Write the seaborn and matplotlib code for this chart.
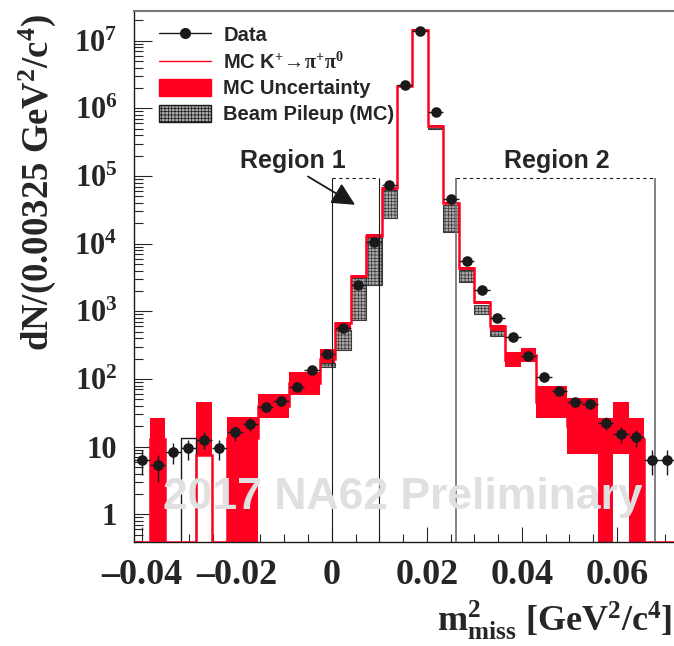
import numpy as np
import pandas as pd
import matplotlib
matplotlib.use("Agg")
import matplotlib.pyplot as plt
from matplotlib.lines import Line2D
from matplotlib.patches import Patch
from matplotlib.ticker import FixedLocator, LogLocator, FuncFormatter, NullFormatter
import seaborn as sns

# binning: 35 bins of 0.00325 GeV^2/c^4
bin_width = 0.00325
first_edge = -0.041525
n_bins = 35

# data counts per bin
data_counts = [6.3, 5.3, 8.4, 9.4, 12.7, 9.4, 16.3, 21.9, 38.6, 46.7,
               76, 136, 231, 567, 2415, 10420, 74100, 2.22e6, 1.41e7, 8.79e5,
               46000, 5460, 2084, 785, 417, 221, 108, 66.5, 45.7, 43.2,
               22.4, 15.4, 13.7, 6.3, 6.3]

# MC K+ -> pi+ pi0 histogram
mc_counts = [0, 13, 0, 0, 7.6, 0, 13.5, 13.5, 40, 40,
             86, 86, 200, 671, 3280, 13090, 66300, 2.17e6, 1.44e7, 5.5e5,
             40600, 4360, 1353, 598, 190, 230, 46, 46, 20, 20,
             13, 18, 13, 0, 0]

# MC uncertainty band (low / high)
band_lo = [0, 0, 0, 0, 7.6, 0, 0, 0, 26.5, 26.5,
           58.7, 58.7, 150, 530, 3000, 12300, 63000, 2.1e6, 1.4e7, 5.3e5,
           39000, 4150, 1280, 438, 149, 180, 26.5, 26.5, 7.8, 7.8,
           0, 7.8, 0, 0, 0]
band_hi = [0, 26.5, 0, 0, 45, 0, 27, 27, 61, 61,
           127, 127, 277, 690, 3450, 13800, 69000, 2.25e6, 1.48e7, 5.7e5,
           42000, 4550, 1420, 622, 247, 287, 80, 80, 53, 53,
           26.5, 45, 26.5, 0, 0]

# beam pileup boxes (bin index, low, high)
pileup_bins = [12, 13, 14, 15, 16, 19, 20, 21, 22, 23]
pileup_lo = [150, 265, 752, 2470, 23900, 4.9e5, 14650, 2710, 912, 436]
pileup_hi = [172, 530, 3100, 12500, 63000, 5.5e5, 37600, 4120, 1253, 505]

# empty outlined box
outline_bins = [3]
outline_tops = [13.4]

region1 = [0.0, 0.0100]
region2 = [0.0261, 0.068]
region_top = 9.4e4

x_ticks = [-0.04, -0.02, 0, 0.02, 0.04, 0.06]
y_ticks = [1, 10, 1e2, 1e3, 1e4, 1e5, 1e6, 1e7]

red = "#ff0020"

edges = first_edge + bin_width * np.arange(n_bins + 1)
centers = edges[:-1] + bin_width / 2
df = pd.DataFrame({"m2": centers, "data": data_counts, "mc": mc_counts,
                   "lo": band_lo, "hi": band_hi})

sns.set_theme(style="ticks")
plt.rcParams["font.family"] = ["Liberation Serif", "DejaVu Serif"]
plt.rcParams["font.weight"] = "bold"
plt.rcParams["mathtext.fontset"] = "custom"
plt.rcParams["mathtext.rm"] = "Liberation Serif:bold"
plt.rcParams["mathtext.bf"] = "Liberation Serif:bold"
plt.rcParams["mathtext.it"] = "Liberation Serif:italic:bold"
plt.rcParams["mathtext.default"] = "bf"
plt.rcParams["hatch.linewidth"] = 0.5

ymin, ymax = 0.39, 2.75e7

fig = plt.figure(figsize=(6.74, 6.46), dpi=100)
ax = fig.add_axes([134 / 674, 104 / 646, 541 / 674, 531 / 646])
ax.set_yscale("log")
ax.set_xlim(-0.0416, 0.0722)
ax.set_ylim(ymin, ymax)

# MC uncertainty band
has_band = df["hi"] > 0
ax.bar(df.loc[has_band, "m2"], df.loc[has_band, "hi"] - df.loc[has_band, "lo"],
       bottom=df.loc[has_band, "lo"], width=bin_width, color=red,
       linewidth=0, zorder=2)

# beam pileup
pc = centers[pileup_bins]
ax.bar(pc, np.array(pileup_hi) - np.array(pileup_lo), bottom=pileup_lo,
       width=bin_width, facecolor="#a8a8a8", edgecolor="#3a3a3a",
       hatch="+++++", linewidth=0.8, zorder=3)

for b, top in zip(outline_bins, outline_tops):
    ax.plot([edges[b], edges[b], edges[b + 1], edges[b + 1]],
            [ymin, top, top, ymin], color="k", lw=1, zorder=3)

# MC line
ax.stairs(np.clip(mc_counts, ymin, None), edges, baseline=None,
          color=red, lw=1.8, zorder=4)

# regions
for x0, x1, col, lw in [(region1[0], region1[1], "k", 0.8),
                        (region2[0], region2[1], "#777777", 1.3)]:
    ax.vlines([x0, x1], ymin, region_top, colors=col, lw=lw, zorder=4)
    ax.hlines(region_top, x0, x1, colors="k", lw=0.8,
              linestyles=(0, (3, 3)), zorder=4)
ax.text(-0.0081, 10**5.22, "Region 1", ha="center", va="center",
        fontsize=18, family=["Liberation Sans", "DejaVu Sans"],
        weight="bold", zorder=6)
ax.text(0.0473, 10**5.22, "Region 2", ha="center", va="center",
        fontsize=18, family=["Liberation Sans", "DejaVu Sans"],
        weight="bold", zorder=6)
ax.annotate("", xy=(0.0049, 10**4.575), xytext=(-0.0050, 10**4.993),
            arrowprops=dict(arrowstyle="-|>,head_length=0.7,head_width=0.35",
                            color="k", lw=1.3, mutation_scale=20,
                            shrinkA=0, shrinkB=0),
            zorder=6)

# watermark
ax.text(0.497, 0.084, "2017 NA62 Preliminary", transform=ax.transAxes,
        ha="center", va="center", fontsize=32, color="#e0e0e0",
        family=["Liberation Sans", "DejaVu Sans"], weight="bold", zorder=5)

# data points
ax.errorbar(df["m2"], df["data"], xerr=bin_width / 2,
            yerr=np.sqrt(df["data"]), fmt="none", ecolor="k",
            elinewidth=1, capsize=0, zorder=6)
sns.scatterplot(data=df, x="m2", y="data", ax=ax, color="k", s=58,
                linewidth=0, zorder=7, legend=False)

# axes styling
ax.set_xlabel("")
ax.set_ylabel("")
ax.xaxis.label.set_visible(False)
ax.yaxis.label.set_visible(False)
ax.xaxis.set_major_locator(FixedLocator(x_ticks))
ax.xaxis.set_minor_locator(FixedLocator(np.arange(-0.04, 0.0721, 0.005)))
ax.xaxis.set_minor_formatter(NullFormatter())
ax.xaxis.set_major_formatter(FuncFormatter(
    lambda v, p: "0" if abs(v) < 1e-9 else f"{v:g}".replace("-", "\u2013")))
ax.yaxis.set_major_locator(FixedLocator(y_ticks))
ax.yaxis.set_minor_locator(LogLocator(base=10, subs=np.arange(2, 10), numticks=100))
ax.yaxis.set_minor_formatter(NullFormatter())
ax.yaxis.set_major_formatter(FuncFormatter(
    lambda v, p: "1" if v == 1 else ("10" if v == 10 else r"$10^{%d}$" % round(np.log10(v)))))
ax.tick_params(axis="x", which="major", direction="in", length=11, width=0.8,
               labelsize=26, pad=12, top=False)
ax.tick_params(axis="x", which="minor", direction="in", length=6, width=0.8, top=False)
ax.tick_params(axis="y", which="major", direction="in", length=13, width=0.8,
               labelsize=22, pad=12, right=False)
ax.tick_params(axis="y", which="minor", direction="in", length=6.5, width=0.8, right=False)
ax.spines["right"].set_visible(False)
ax.spines["top"].set_color("#777777")
ax.spines["top"].set_linewidth(1.5)
for s in ["left", "bottom"]:
    ax.spines[s].set_color("k")
    ax.spines[s].set_linewidth(1)

fig.text(37 / 674, 1 - 183 / 646, r"dN/(0.00325 GeV$^{2}$/c$^{4}$)",
         rotation=90, ha="center", va="center", fontsize=26.5)
fig.text(672 / 674, 1 - 620 / 646, r"m$^{2}_{\rm miss}$ [GeV$^{2}$/c$^{4}$]",
         ha="right", va="center", fontsize=26)

handles = [
    Line2D([], [], color="k", marker="o", ms=7, lw=1),
    Line2D([], [], color=red, lw=1),
    Patch(facecolor=red, edgecolor=red),
    Patch(facecolor="#a8a8a8", edgecolor="k", hatch="+++++", lw=1),
]
labels = ["Data", r"MC K$^{+}\!\rightarrow\!\pi^{+}\pi^{0}$",
          "MC Uncertainty", "Beam Pileup (MC)"]
ax.legend(handles, labels, loc="upper left", bbox_to_anchor=(0.02, 1.0),
          frameon=False, prop=dict(family=["Liberation Sans", "DejaVu Sans"],
                                   weight="bold", size=14.5),
          handlelength=2.6, handleheight=0.95, handletextpad=0.6,
          labelspacing=0.32, borderaxespad=0.3)

fig.savefig("out.png", dpi=100)
